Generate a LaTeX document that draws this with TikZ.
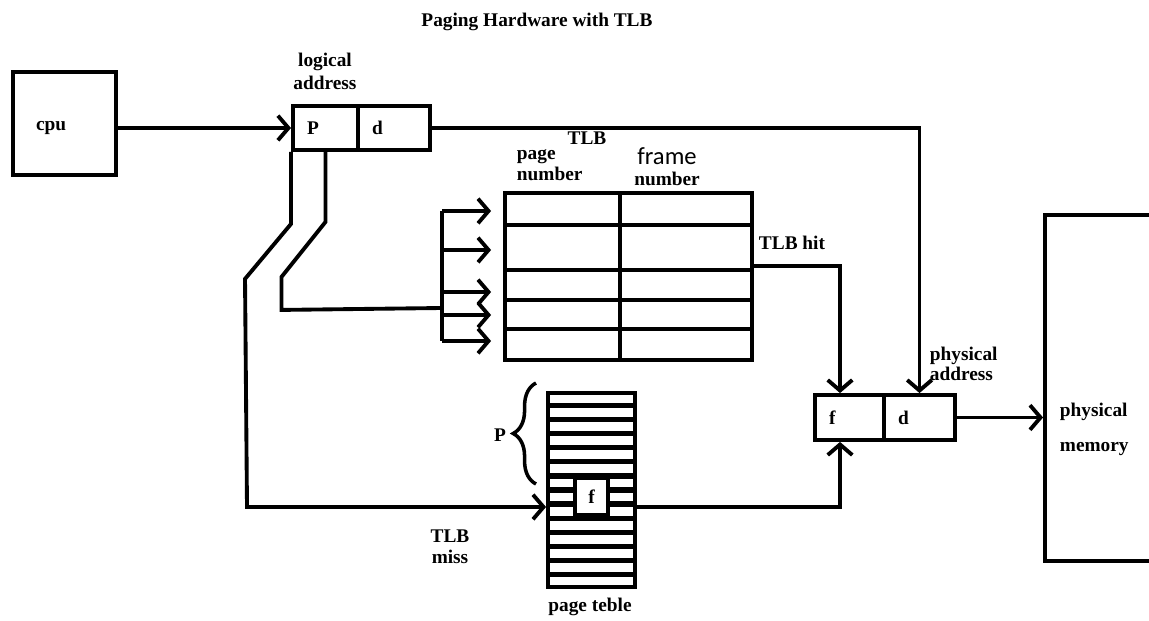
\documentclass[tikz,border=0pt]{standalone}
\usepackage{fontspec}
\setmainfont{Liberation Serif}
\newfontfamily\framefont{Carlito}
\usetikzlibrary{arrows.meta,calc,decorations.pathreplacing}

\begin{document}
\begin{tikzpicture}[x=0.02cm, y=-0.02cm, line width=2.2pt,
    font=\fontsize{11}{15}\selectfont\bfseries,
    arr/.style={-{Straight Barb[length=6pt,width=14pt]}},
    cell/.style={draw, inner xsep=8pt, inner ysep=0pt, align=left},
    lbl/.style={inner sep=0pt, align=center}]
  % units: 1 = one pixel of the sketch, y grows downwards
  \clip (0,0) rectangle (1149,621);
  \node[lbl] (title) at (537,22) {Paging Hardware with TLB};

  \node[cell, inner xsep=13pt, text width=1.14cm, minimum height=2.06cm] (cpu) at (64.5,123.5) {\smash{\raisebox{-4pt}{cpu}}};
  \node[cell, text width=0.74cm, minimum height=0.88cm] (lp) at (325.5,128) {P};
  \node[cell, text width=0.88cm, minimum height=0.88cm] (ld) at (394,128) {d};
  \node[lbl] (logical) at (325,71) {logical\\[-2pt]address};

  % TLB
  \node[draw, minimum width=4.94cm, minimum height=3.34cm] (tlb) at (628.5,276.5) {};
  \draw (620,193) -- (620,360);
  \foreach \y in {225,270,300,329}
    \draw (505,\y) -- (752,\y);
  \node[lbl] (tlbname) at (587,138) {TLB};
  \node[lbl, anchor=west, align=left] (pagenum) at (515,165) {page\\[-3pt]number};
  \node[lbl] (framenum) at (667,167) {{\framefont\mdseries\fontsize{14}{14}\selectfont frame}\\[-3pt]number};
  \node[lbl] (hitlbl) at (792,243) {TLB hit};

  \foreach \y [count=\i] in {211,250,292,315,341}
    \coordinate (bus\i) at (442,\y);
  \draw (bus1) -- (bus5);
  \foreach \i in {1,...,5}
    \draw[arr, shorten >=0.24cm] (bus\i) -- (bus\i -| tlb.west);

  % page table
  \node[draw, minimum width=1.74cm, minimum height=3.88cm] (pt) at (591.5,490) {};
  \foreach \k in {1,...,13}
    \draw[line width=3pt] ($(pt.north west)!\k/14!(pt.south west)$) -- ($(pt.north east)!\k/14!(pt.south east)$);
  \node[draw, fill=white, inner sep=0pt, minimum width=0.66cm, minimum height=0.74cm] (ptf) at (591.5,496.5) {f};
  \draw[line width=2pt, decorate, decoration={brace, amplitude=13pt}] (536,484) -- (536,383);
  \node[lbl] (plbl) at (500,435) {P};
  \node[lbl] (ptlbl) at (590,607) {page teble};
  \node[lbl] (misslbl) at (450,547) {TLB\\[-3pt]miss};

  % physical address and memory
  \node[cell, text width=0.82cm, minimum height=0.9cm] (pf) at (849.5,417.5) {f};
  \node[cell, text width=0.86cm, minimum height=0.9cm] (pd) at (919.5,417.5) {d};
  \node[lbl, anchor=west, align=left] (physaddr) at (928,364) {physical\\[-4pt]address};
  \node[draw, minimum width=2.6cm, minimum height=6.92cm] (mem) at (1110,388) {};
  \node[lbl, anchor=west, align=left] (memlbl) at (1058,429) {physical\\[5pt]memory};

  % connectors
  \coordinate (miss) at (247,507);
  \coordinate (hit) at (752,266);
  \coordinate (join) at (442,308);
  \coordinate (ptout) at (pt.east |- miss);
  \draw[arr] (cpu.east |- lp.west) -- (lp.west);
  \draw[arr] (ld.east) -| (pd.north);
  \draw (lp.south) -- ++(0,70) -- ++(-44,55) -- ++(0,33) -- (join);
  \draw[arr] (lp.south west) -- ++(0,72) -- ++(-46,55) -- (miss) -- (miss -| pt.west);
  \draw[arr] (hit) -| ([xshift=-0.19cm]pf.north);
  \draw[arr] (ptout) -| ([xshift=-0.19cm]pf.south);
  \draw[arr] (pd.east) -- (pd.east -| mem.west);
\end{tikzpicture}
\end{document}
